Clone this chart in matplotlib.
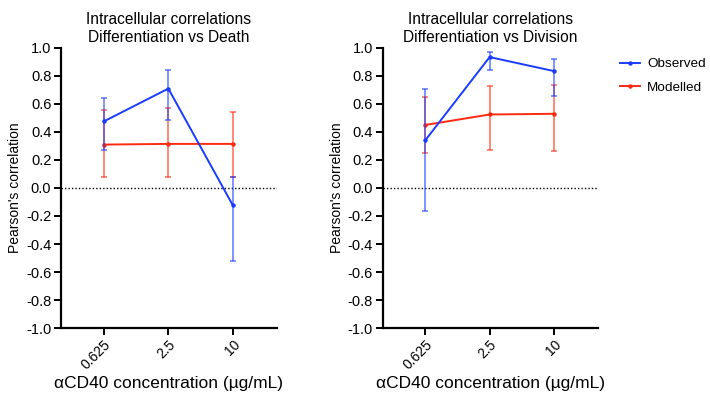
import matplotlib.pyplot as plt
from matplotlib.lines import Line2D
import numpy as np

plt.rcParams['font.family'] = ['Liberation Sans', 'DejaVu Sans']

concs = ["0.625", "2.5", "10"]
titles = ["Intracellular correlations\nDifferentiation vs Death",
          "Intracellular correlations\nDifferentiation vs Division"]
yticks = [-1.0, -0.8, -0.6, -0.4, -0.2, 0.0, 0.2, 0.4, 0.6, 0.8, 1.0]

# panel 1: differentiation vs death
obs_death = [0.475, 0.71, -0.125]
obs_death_hi = [0.645, 0.845, 0.08]
obs_death_lo = [0.27, 0.485, -0.52]
mod_death = [0.31, 0.315, 0.315]
mod_death_hi = [0.56, 0.57, 0.54]
mod_death_lo = [0.08, 0.075, 0.08]

# panel 2: differentiation vs division
obs_div = [0.34, 0.935, 0.835]
obs_div_hi = [0.705, 0.97, 0.92]
obs_div_lo = [-0.167, 0.84, 0.66]
mod_div = [0.45, 0.525, 0.53]
mod_div_hi = [0.65, 0.732, 0.738]
mod_div_lo = [0.247, 0.27, 0.265]

blue = "#1a3cff"
red = "#ff2a10"

fig = plt.figure(figsize=(7.1, 3.94), dpi=100)
ax1 = fig.add_axes([0.086, 0.1675, 0.304, 0.7107])
ax2 = fig.add_axes([0.539, 0.1675, 0.303, 0.7107])

panels = [
    (ax1, obs_death, obs_death_lo, obs_death_hi, mod_death, mod_death_lo, mod_death_hi),
    (ax2, obs_div, obs_div_lo, obs_div_hi, mod_div, mod_div_lo, mod_div_hi),
]

x = np.arange(len(concs))
for i, (ax, ov, olo, ohi, mv, mlo, mhi) in enumerate(panels):
    ov, olo, ohi = np.array(ov), np.array(olo), np.array(ohi)
    mv, mlo, mhi = np.array(mv), np.array(mlo), np.array(mhi)
    ax.axhline(0, color="black", ls=(0, (1, 1.5)), lw=1, zorder=1)
    for v, lo, hi, c, z in [(ov, olo, ohi, blue, 3), (mv, mlo, mhi, red, 2)]:
        ax.errorbar(x, v, yerr=[v - lo, hi - v], fmt="none", ecolor=c,
                    elinewidth=1.1, capsize=2, capthick=1.1, alpha=0.7, zorder=z)
        ax.plot(x, v, color=c, lw=1.4, marker="o", ms=2.2, zorder=z + 0.5)
    ax.set_xlim(-0.66, 2.68)
    ax.set_ylim(-1.0, 1.0)
    ax.set_yticks(yticks)
    ax.set_yticklabels([f"{v:.1f}" for v in yticks], fontsize=10.5)
    ax.set_xticks(x)
    ax.set_xticklabels(concs, rotation=45, ha="right", rotation_mode="anchor", fontsize=10)
    ax.spines[["top", "right"]].set_visible(False)
    ax.spines[["left", "bottom"]].set_linewidth(1.6)
    ax.tick_params(width=1.4, length=5, pad=2)
    ax.set_title(titles[i], fontsize=11.2, pad=4, linespacing=1.3)
    ax.set_ylabel("Pearson's correlation", fontsize=10, labelpad=3)
    ax.set_xlabel("\u03b1CD40 concentration (\u00b5g/mL)", fontsize=12.5, labelpad=3)

handles = [Line2D([], [], color=blue, lw=1.4, marker="o", ms=2.2),
           Line2D([], [], color=red, lw=1.4, marker="o", ms=2.2)]
fig.legend(handles, ["Observed", "Modelled"], loc="upper left",
           bbox_to_anchor=(620 / 710, 1 - 58 / 394), frameon=False, fontsize=9.7,
           borderaxespad=0, borderpad=0, handlelength=1.45, handletextpad=0.55,
           labelspacing=0.8)

fig.savefig("out.png", dpi=100)
